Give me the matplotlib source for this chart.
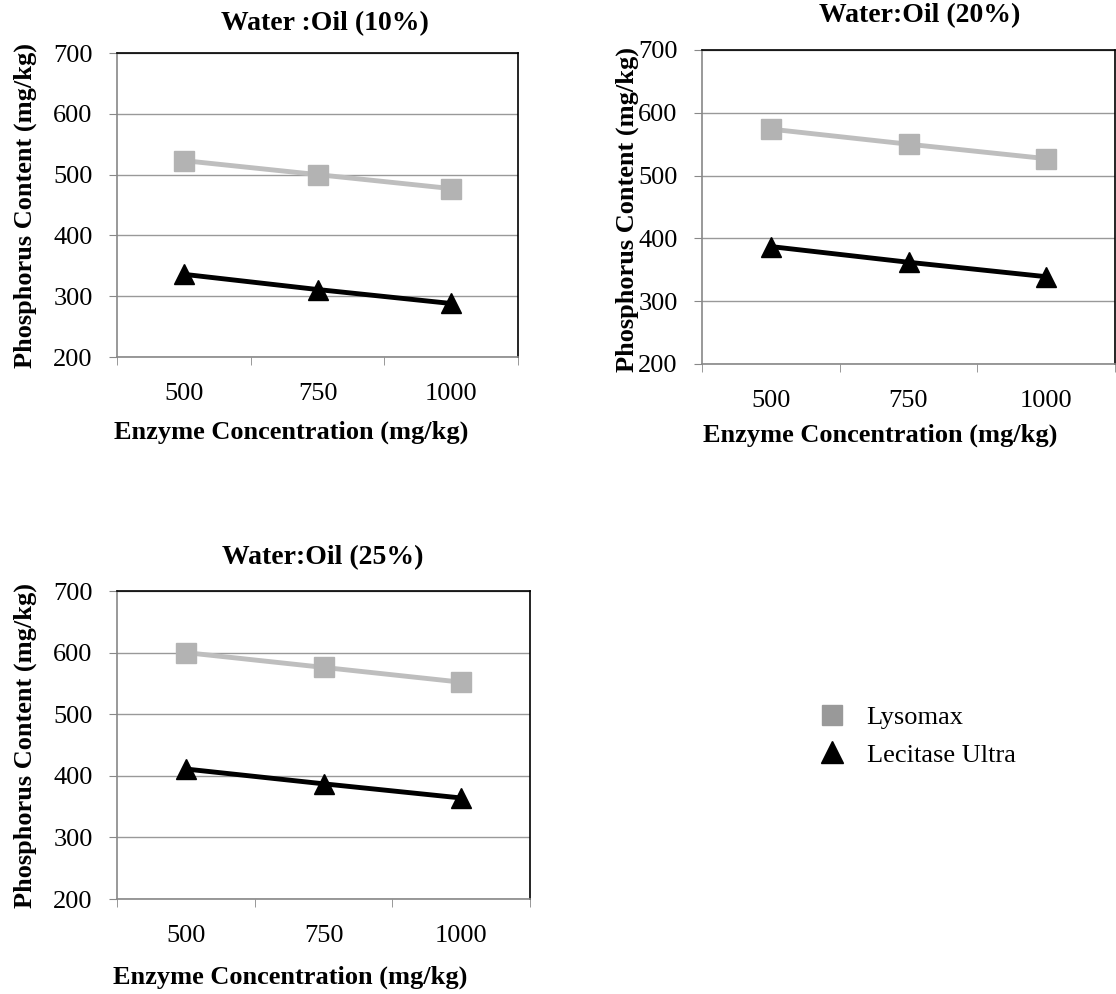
import matplotlib.pyplot as plt
from matplotlib.lines import Line2D

plt.rcParams['font.family'] = ['Liberation Serif', 'DejaVu Serif']

enzyme = ["500", "750", "1000"]
titles = ["Water :Oil (10%)", "Water:Oil (20%)", "Water:Oil (25%)"]
lysomax = [[523, 500, 477], [574, 550, 527], [600, 576, 552]]
lecitase = [[336, 311, 288], [387, 362, 339], [411, 387, 364]]
yticks = [200, 300, 400, 500, 600, 700]

W, H = 1116, 994
fig = plt.figure(figsize=(W / 100, H / 100), dpi=100)

# axes boxes in pixels: left, top, right, bottom
boxes = [(117, 53, 518, 357), (702, 50, 1115, 364), (117, 591, 530, 899)]
title_pos = [(325, 24), (920, 16), (323, 558)]
xlab_pos = [(291, 432), (880, 435), (290, 977)]
ylab_pos = [(25, 205), (627, 210), (25, 745)]

for i in range(3):
    l, t, r, b = boxes[i]
    ax = fig.add_axes([l / W, 1 - b / H, (r - l) / W, (b - t) / H])
    x = range(len(enzyme))
    ax.plot(x, lysomax[i], color='#BEBEBE', lw=3.5, marker='s', ms=14,
            mfc='#B3B3B3', mec='#B3B3B3', zorder=3)
    ax.plot(x, lecitase[i], color='black', lw=3.5, marker='^', ms=15, zorder=3)
    ax.set_xlim(-0.5, 2.5)
    ax.set_ylim(200, 700)
    ax.set_yticks(yticks)
    ax.set_xticks(x)
    ax.set_xticklabels(enzyme)
    ax.set_xticks([-0.5, 0.5, 1.5, 2.5], minor=True)
    ax.tick_params(axis='x', which='major', length=0, labelsize=19, pad=19)
    ax.tick_params(axis='x', which='minor', length=6, color='#888888', direction='out')
    ax.tick_params(axis='y', length=6, color='#888888', labelsize=19, pad=11.5)
    ax.grid(axis='y', color='#999999', lw=1)
    ax.set_axisbelow(True)
    ax.spines['left'].set_color('#888888')
    ax.spines['bottom'].set_color('#888888')
    ax.spines['top'].set_color('black')
    ax.spines['right'].set_color('black')
    for s in ax.spines.values():
        s.set_linewidth(1.2)

    fig.text(title_pos[i][0] / W, 1 - title_pos[i][1] / H, titles[i],
             ha='center', va='center', fontsize=20, fontweight='bold')
    fig.text(xlab_pos[i][0] / W, 1 - xlab_pos[i][1] / H, "Enzyme Concentration (mg/kg)",
             ha='center', va='center', fontsize=19, fontweight='bold')
    fig.text(ylab_pos[i][0] / W, 1 - ylab_pos[i][1] / H, "Phosphorus Content (mg/kg)",
             ha='center', va='center', rotation=90, fontsize=19, fontweight='bold')

handles = [
    Line2D([], [], ls='none', marker='s', ms=14, mfc='#999999', mec='#999999'),
    Line2D([], [], ls='none', marker='^', ms=16, color='black'),
]
fig.legend(handles, ["Lysomax", "Lecitase Ultra"], loc='center left',
           bbox_to_anchor=(790 / W, 1 - 736 / H), frameon=False, fontsize=19,
           handletextpad=0.6, handlelength=1.4, labelspacing=0.55)

fig.savefig("out.png", dpi=100)
